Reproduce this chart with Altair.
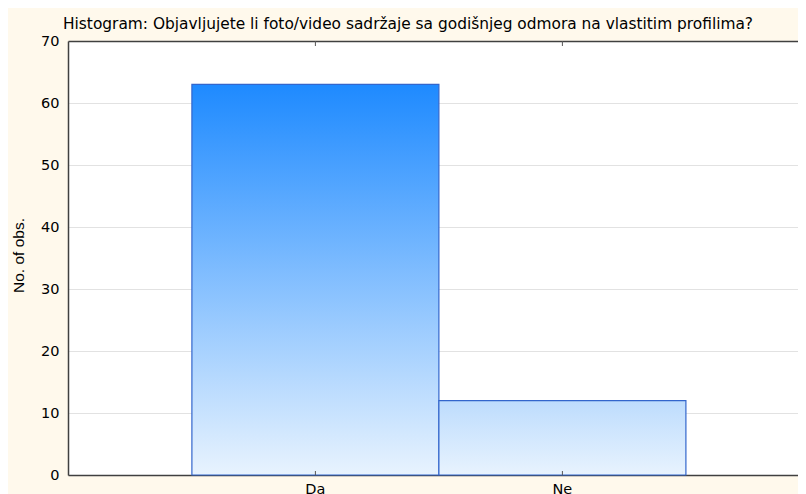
import altair as alt
import pandas as pd

categories = ["Da", "Ne"]
counts = [63, 12]
title_text = "Histogram: Objavljujete li foto/video sadržaje sa godišnjeg odmora na vlastitim profilima?"
y_title = "No. of obs."
y_ticks = [0, 10, 20, 30, 40, 50, 60, 70]

df = pd.DataFrame({"odgovor": categories, "n": counts})

W, H = 730, 434
FONT = "DejaVu Sans"
AXIS_COLOR = "#404040"

x_enc = alt.X(
    "odgovor:N",
    sort=categories,
    scale=alt.Scale(paddingInner=0, paddingOuter=0.4777, align=0.525),
    axis=alt.Axis(title=None, labelAngle=0, labelFontSize=14.5, labelFont=FONT,
                  labelColor="#000000", labelPadding=7, ticks=False,
                  domain=True, domainColor=AXIS_COLOR, domainWidth=1.5),
)
y_enc = alt.Y(
    "n:Q",
    scale=alt.Scale(domain=[0, 70], nice=False),
    axis=alt.Axis(title=y_title, values=y_ticks,
                  labelFontSize=14.5, labelFont=FONT, labelColor="#000000",
                  labelPadding=9, ticks=False,
                  domain=True, domainColor=AXIS_COLOR, domainWidth=1.5,
                  grid=True,
                  gridColor=alt.condition("datum.value == 70", alt.value(AXIS_COLOR), alt.value("#E2E2E2")),
                  gridWidth=alt.condition("datum.value == 70", alt.value(1.5), alt.value(1)),
                  titleFont="Liberation Sans", titleFontSize=15.5,
                  titleFontWeight="normal", titleColor="#000000",
                  titleX=-50, titleY=214, titleAngle=270,
                  titleAlign="center", titleBaseline="middle"),
)

base = alt.Chart(df)

grad_da = alt.Gradient(
    gradient="linear", x1=0, y1=0, x2=0, y2=1,
    stops=[alt.GradientStop(color="#1E8AFF", offset=0),
           alt.GradientStop(color="#E8F3FE", offset=1)],
)
grad_ne = alt.Gradient(
    gradient="linear", x1=0, y1=0, x2=0, y2=1,
    stops=[alt.GradientStop(color="#BDDCFD", offset=0),
           alt.GradientStop(color="#E8F3FE", offset=1)],
)

bar_da = base.transform_filter(alt.datum.odgovor == "Da").mark_bar(
    color=grad_da, stroke="#3366CC", strokeWidth=1.2
).encode(x=x_enc, y=y_enc)

bar_ne = base.transform_filter(alt.datum.odgovor == "Ne").mark_bar(
    color=grad_ne, stroke="#3366CC", strokeWidth=1.2
).encode(x=x_enc, y=y_enc)

tick_top = base.mark_rule(color="#555555", strokeWidth=1).encode(
    x=alt.X("odgovor:N", sort=categories), y=alt.value(0), y2=alt.value(5)
)
tick_bottom = base.mark_rule(color="#555555", strokeWidth=1).encode(
    x=alt.X("odgovor:N", sort=categories), y=alt.value(H - 4), y2=alt.value(H)
)

chart = alt.layer(bar_da, bar_ne, tick_top, tick_bottom).properties(
    width=W,
    height=H,
    background="#FFF9EC",
    padding={"left": 60, "top": 33, "right": 0, "bottom": 30},
    autosize=alt.AutoSizeParams(type="none"),
    title=alt.TitleParams(
        text=title_text, fontSize=15.4, font=FONT, fontWeight="normal",
        color="#000000", anchor="start", frame="group", dx=-5, offset=1,
    ),
).configure_view(
    fill="#FFFFFF", stroke=None
)

chart.save("out.html", embed_options={"renderer": "svg", "actions": False})
